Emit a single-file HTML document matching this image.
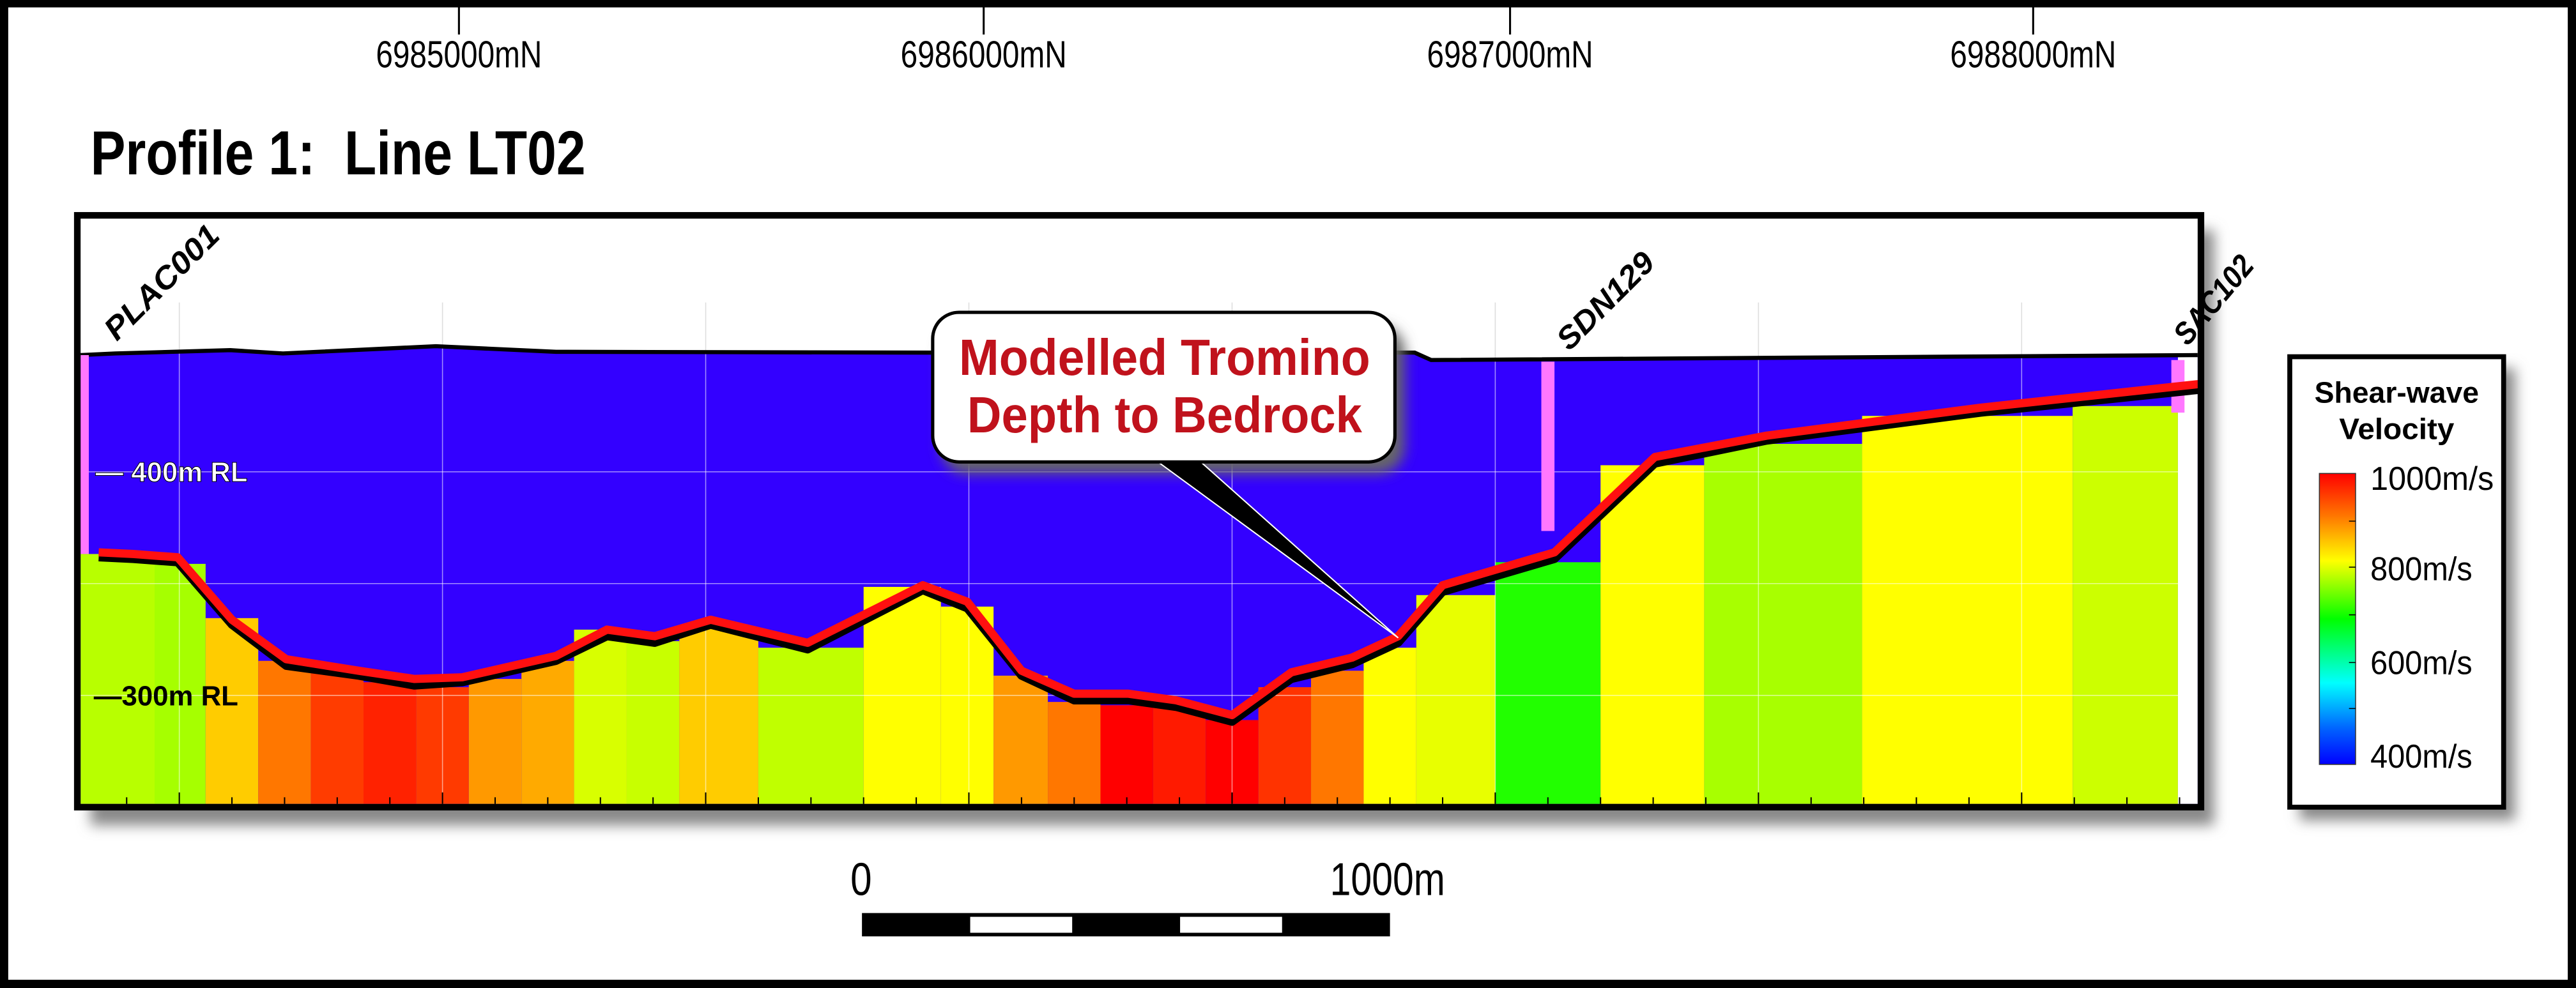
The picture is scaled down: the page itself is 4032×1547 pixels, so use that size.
<!DOCTYPE html>
<html><head><meta charset="utf-8"><style>
html,body{margin:0;padding:0;background:#fff;}
svg{display:block;}
text{font-family:"Liberation Sans Narrow","Liberation Sans",sans-serif;}
</style></head><body>
<svg width="4032" height="1547" viewBox="0 0 1566 601" preserveAspectRatio="none" xmlns="http://www.w3.org/2000/svg">
<defs>
<filter id="sh" x="-10%" y="-10%" width="130%" height="140%"><feGaussianBlur stdDeviation="4"/></filter>
<linearGradient id="cb" x1="0" y1="0" x2="0" y2="1">
<stop offset="0" stop-color="#ff0000"/><stop offset="0.15" stop-color="#ff7a00"/><stop offset="0.3" stop-color="#ffff00"/><stop offset="0.5" stop-color="#00ff00"/><stop offset="0.72" stop-color="#00ffff"/><stop offset="0.88" stop-color="#0060ff"/><stop offset="1" stop-color="#0000ff"/>
</linearGradient>
</defs>
<rect x="0" y="0" width="1566" height="601" fill="#fff"/>
<g stroke="#000" stroke-width="1.2">
<line x1="279" y1="4" x2="279" y2="21"/><line x1="598" y1="4" x2="598" y2="21"/><line x1="918" y1="4" x2="918" y2="21"/><line x1="1236" y1="4" x2="1236" y2="21"/>
</g>
<g font-size="23" text-anchor="middle" fill="#000">
<text x="279" y="41" textLength="101" lengthAdjust="spacingAndGlyphs">6985000mN</text>
<text x="598" y="41" textLength="101" lengthAdjust="spacingAndGlyphs">6986000mN</text>
<text x="918" y="41" textLength="101" lengthAdjust="spacingAndGlyphs">6987000mN</text>
<text x="1236" y="41" textLength="101" lengthAdjust="spacingAndGlyphs">6988000mN</text>
</g>
<text x="55" y="106" font-size="38" font-weight="bold" textLength="301" lengthAdjust="spacingAndGlyphs">Profile 1: &#160;Line LT02</text>
<rect x="55" y="140" width="1291" height="362" fill="#888" filter="url(#sh)"/>
<rect x="1398" y="224" width="131" height="275" fill="#888" filter="url(#sh)"/>
<rect x="47" y="131" width="1291" height="360" fill="#fff"/>
<path d="M49,216 L70,215 L140,213 L172,215 L265,210.6 L338,214 L567,214.5 L860,214.5 L870,219 L1336,216 L1336,489 L49,489 Z" fill="#3300ff"/>
<g>
<rect x="49" y="337" width="46" height="152" fill="#b8ff00"/>
<rect x="94" y="343" width="31" height="146" fill="#a6ff00"/>
<rect x="125" y="376" width="32" height="113" fill="#ffcc00"/>
<rect x="157" y="402" width="32" height="87" fill="#ff7700"/>
<rect x="189" y="409" width="32" height="80" fill="#ff3c00"/>
<rect x="221" y="415" width="32" height="74" fill="#ff2200"/>
<rect x="253" y="418" width="32" height="71" fill="#ff3a00"/>
<rect x="285" y="413" width="32" height="76" fill="#ff9900"/>
<rect x="317" y="402" width="32" height="87" fill="#ffaa00"/>
<rect x="349" y="383" width="32" height="106" fill="#d8ff00"/>
<rect x="381" y="390" width="32" height="99" fill="#c8ff00"/>
<rect x="413" y="382" width="48" height="107" fill="#ffcc00"/>
<rect x="461" y="394" width="64" height="95" fill="#c0ff00"/>
<rect x="525" y="357" width="47" height="132" fill="#ffff00"/>
<rect x="572" y="369" width="32" height="120" fill="#ffff00"/>
<rect x="604" y="411" width="33" height="78" fill="#ff9900"/>
<rect x="637" y="427" width="32" height="62" fill="#ff7700"/>
<rect x="669" y="429" width="32" height="60" fill="#ff0000"/>
<rect x="701" y="430" width="32" height="59" fill="#ff1a00"/>
<rect x="733" y="438" width="32" height="51" fill="#ff0000"/>
<rect x="765" y="418" width="32" height="71" fill="#ff3300"/>
<rect x="797" y="408" width="32" height="81" fill="#ff7700"/>
<rect x="829" y="394" width="32" height="95" fill="#ffff00"/>
<rect x="861" y="362" width="48" height="127" fill="#e8ff00"/>
<rect x="909" y="342" width="64" height="147" fill="#22ff00"/>
<rect x="973" y="283" width="63" height="206" fill="#ffff00"/>
<rect x="1036" y="270" width="96" height="219" fill="#a8ff00"/>
<rect x="1132" y="253" width="128" height="236" fill="#ffff00"/>
<rect x="1260" y="247" width="64" height="242" fill="#ccff00"/>
<rect x="1324" y="216" width="12" height="273" fill="#fff"/>
</g>
<g stroke="#fff" stroke-opacity="0.55" stroke-width="0.6">
<line x1="109" y1="184" x2="109" y2="489"/><line x1="269" y1="184" x2="269" y2="489"/><line x1="429" y1="184" x2="429" y2="489"/><line x1="589" y1="184" x2="589" y2="489"/><line x1="749" y1="184" x2="749" y2="489"/><line x1="909" y1="184" x2="909" y2="489"/><line x1="1069" y1="184" x2="1069" y2="489"/><line x1="1229" y1="184" x2="1229" y2="489"/>
<line x1="49" y1="287" x2="1336" y2="287"/><line x1="49" y1="355" x2="1336" y2="355"/><line x1="49" y1="423" x2="1336" y2="423"/>
</g>
<g stroke="#ddd" stroke-width="0.6">
<line x1="109" y1="184" x2="109" y2="214"/><line x1="269" y1="184" x2="269" y2="211"/><line x1="429" y1="184" x2="429" y2="214"/><line x1="589" y1="184" x2="589" y2="214"/><line x1="749" y1="184" x2="749" y2="214"/><line x1="909" y1="184" x2="909" y2="219"/><line x1="1069" y1="184" x2="1069" y2="218"/><line x1="1229" y1="184" x2="1229" y2="217"/>
</g>
<path d="M49,216 L70,215 L140,213 L172,215 L265,210.6 L338,214 L567,214.5 L860,214.5 L870,219 L1336,216" fill="none" stroke="#000" stroke-width="2.5"/>
<rect x="49" y="216" width="5" height="121" fill="#ff77ff"/>
<rect x="937" y="220" width="8" height="103" fill="#ff77ff"/>
<rect x="1320" y="219" width="8" height="32" fill="#ff77ff"/>
<path d="M60,339 L81,340 L108,342 L141,380 L174,405 L218,411 L252,417 L281,415 L338,402 L369,387 L398,391 L432,380 L491,395 L561,359 L588,370 L621,411 L653,426 L686,426 L715,430 L749,439 L785,413 L822,404 L850,391 L877,360 L945,340 L1006,282 L1074,268 L1204,251 L1338,237" fill="none" stroke="#000" stroke-width="5" stroke-linejoin="round"/>
<path d="M60,336 L81,337 L108,339 L141,377 L174,401 L218,408 L252,413 L281,412 L338,399 L369,383 L398,387 L432,377 L491,391 L561,356 L588,366 L621,408 L653,422 L686,422 L715,426 L749,435 L785,409 L822,400 L850,387 L877,356 L945,336 L1006,278 L1074,265 L1204,248 L1338,233.5" fill="none" stroke="#ff1010" stroke-width="5" stroke-linejoin="round"/>
<g stroke="#000" stroke-width="0.8">
<path d="M77,489v-4M109,489v-7M141,489v-4M173,489v-4M205,489v-4M237,489v-4M269,489v-7M301,489v-4M333,489v-4M365,489v-4M397,489v-4M429,489v-7M461,489v-4M493,489v-4M525,489v-4M557,489v-4M589,489v-7M621,489v-4M653,489v-4M685,489v-4M717,489v-4M749,489v-7M781,489v-4M813,489v-4M845,489v-4M877,489v-4M909,489v-7M941,489v-4M973,489v-4M1005,489v-4M1037,489v-4M1069,489v-7M1101,489v-4M1133,489v-4M1165,489v-4M1197,489v-4M1229,489v-7M1261,489v-4M1293,489v-4M1325,489v-4"/>
</g>
<rect x="47" y="131" width="1291" height="360" fill="none" stroke="#000" stroke-width="4"/>
<text x="58" y="293" font-size="17" font-weight="bold" fill="#fff" stroke="#000" stroke-width="0.4">— 400m RL</text>
<text x="57" y="429" font-size="17" font-weight="bold" fill="#000">—300m RL</text>
<g font-size="19" font-weight="bold" font-style="italic" fill="#000">
<text transform="translate(71,208) rotate(-45)" textLength="90" lengthAdjust="spacingAndGlyphs">PLAC001</text>
<text transform="translate(954,214) rotate(-45)" textLength="75" lengthAdjust="spacingAndGlyphs">SDN129</text>
<text transform="translate(1330,211) rotate(-50)" textLength="64" lengthAdjust="spacingAndGlyphs">SAC102</text>
</g>
<rect x="572" y="198" width="282" height="90" rx="16" fill="#666" filter="url(#sh)"/>
<polygon points="704,281 730,281 850,388" fill="#000" stroke="#fff" stroke-width="0.8"/>
<rect x="567" y="190" width="281" height="91" rx="16" fill="#fff" stroke="#000" stroke-width="2"/>
<g font-size="31" font-weight="bold" fill="#c0121c" text-anchor="middle">
<text x="708" y="228" textLength="250" lengthAdjust="spacingAndGlyphs">Modelled Tromino</text>
<text x="708" y="263" textLength="240" lengthAdjust="spacingAndGlyphs">Depth to Bedrock</text>
</g>
<rect x="1392" y="217" width="130" height="274" fill="#fff" stroke="#000" stroke-width="3"/>
<g font-size="18" font-weight="bold" text-anchor="middle">
<text x="1457" y="245" textLength="100" lengthAdjust="spacingAndGlyphs">Shear-wave</text>
<text x="1457" y="267" textLength="70" lengthAdjust="spacingAndGlyphs">Velocity</text>
</g>
<rect x="1410" y="288" width="22" height="177" fill="url(#cb)" stroke="#333" stroke-width="0.6"/>
<g stroke="#000" stroke-width="0.6"><path d="M1428,317h4M1428,345h4M1428,374h4M1428,403h4M1428,431h4"/></g>
<g font-size="20">
<text x="1441" y="298" textLength="75" lengthAdjust="spacingAndGlyphs">1000m/s</text>
<text x="1441" y="353" textLength="62" lengthAdjust="spacingAndGlyphs">800m/s</text>
<text x="1441" y="410" textLength="62" lengthAdjust="spacingAndGlyphs">600m/s</text>
<text x="1441" y="467" textLength="62" lengthAdjust="spacingAndGlyphs">400m/s</text>
</g>
<text x="523.5" y="544.5" font-size="28" text-anchor="middle" textLength="13" lengthAdjust="spacingAndGlyphs">0</text>
<text x="843.5" y="544.5" font-size="28" text-anchor="middle" textLength="70" lengthAdjust="spacingAndGlyphs">1000m</text>
<rect x="524" y="555.4" width="321" height="14.2" fill="#000"/>
<rect x="589.8" y="557.7" width="62" height="9.7" fill="#fff"/>
<rect x="717.4" y="557.7" width="62" height="9.7" fill="#fff"/>
<rect x="0" y="0" width="1566" height="4.5" fill="#000"/>
<rect x="0" y="596" width="1566" height="5" fill="#000"/>
<rect x="0" y="0" width="5" height="601" fill="#000"/>
<rect x="1561" y="0" width="5" height="601" fill="#000"/>
</svg>
</body></html>
